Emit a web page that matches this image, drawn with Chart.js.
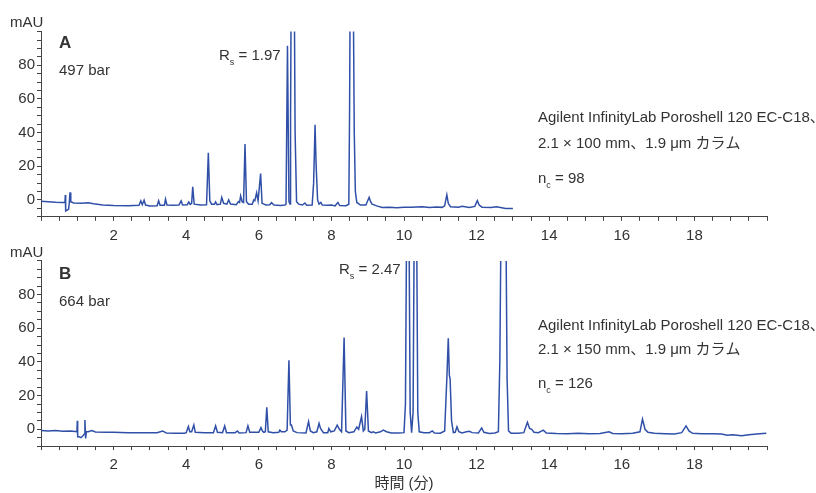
<!DOCTYPE html>
<html><head><meta charset="utf-8">
<script src="https://cdn.jsdelivr.net/npm/chart.js@4.4.1/dist/chart.umd.min.js"></script>
<style>
html,body{margin:0;padding:0;background:#fff;width:816px;height:493px;overflow:hidden}
canvas{position:absolute;left:0}
#cA{top:0}
#cB{top:240px}
</style></head><body>
<canvas id="cA" width="816" height="240"></canvas>
<canvas id="cB" width="816" height="253"></canvas>
<script>
// ---------- data ----------
const timeA = [0.00,0.20,0.40,0.60,0.66,0.67,0.68,0.72,0.76,0.78,0.80,0.82,0.90,1.10,1.30,1.45,1.70,2.00,2.40,2.70,2.75,2.79,2.84,2.88,3.00,3.20,3.24,3.28,3.40,3.43,3.47,3.65,3.80,3.86,3.90,4.03,4.07,4.11,4.15,4.18,4.22,4.40,4.56,4.61,4.65,4.70,4.78,4.81,4.85,4.94,4.98,5.03,5.12,5.17,5.22,5.38,5.44,5.47,5.50,5.54,5.58,5.62,5.66,5.72,5.82,5.86,5.89,5.94,5.98,6.05,6.09,6.20,6.30,6.35,6.42,6.60,6.72,6.75,6.79,6.83,6.86,6.875,6.89,6.935,6.98,7.00,7.04,7.10,7.20,7.27,7.32,7.47,7.51,7.55,7.58,7.62,7.66,7.71,7.75,7.90,8.00,8.10,8.18,8.23,8.40,8.48,8.50,8.515,8.56,8.605,8.63,8.66,8.70,8.80,8.95,9.04,9.08,9.12,9.25,9.40,9.60,9.80,10.00,10.20,10.50,10.70,10.90,11.05,11.12,11.18,11.22,11.28,11.50,11.60,11.80,11.95,12.02,12.07,12.15,12.40,12.55,12.80,13.00];
const signalA = [-0.8,-1.0,-1.3,-1.5,-1.5,3.0,-6.5,-6.0,-5.5,-1.5,4.5,-1.0,-1.8,-2.0,-1.6,-2.2,-3.0,-3.3,-3.4,-3.2,-0.5,-2.8,-0.2,-3.0,-3.6,-3.4,-0.5,-3.2,-3.2,0.5,-3.0,-3.2,-3.0,-0.5,-3.0,-2.8,-1.2,-2.6,-2.0,7.8,-2.5,-3.0,-2.8,28.0,-0.5,-2.5,-2.6,-1.2,-2.8,-2.5,1.5,-2.0,-2.5,0.0,-2.4,-2.8,-1.0,-1.5,2.4,-1.0,-1.5,33.3,-1.0,-2.5,-2.5,0.0,-0.5,4.3,-0.5,15.7,-2.0,-3.0,-2.8,-1.6,-3.0,-3.3,-3.0,-2.5,91.6,-1.0,-2.4,50,115,300,115,40,-1.0,-2.5,-3.0,-1.8,-3.2,-3.0,10,44.7,20,0.0,-2.5,-1.5,-3.0,-3.2,-3.0,-3.5,-1.5,-3.3,-3.4,-2.5,50,115,300,115,40,5,-1.5,-3.0,-3.0,1.6,-1.0,-2.5,-3.5,-4.5,-4.3,-4.6,-4.3,-4.4,-4.0,-4.5,-4.2,-4.4,-3.5,3.0,-2.0,-4.0,-4.3,-3.8,-4.5,-3.8,-0.4,-3.0,-4.3,-4.5,-4.0,-5.0,-5.0];

const timeB = [0.00,0.20,0.40,0.60,0.80,0.95,0.99,1.00,1.01,1.05,1.10,1.15,1.19,1.21,1.23,1.25,1.30,1.40,1.50,1.80,2.00,2.40,2.80,3.20,3.35,3.45,3.70,3.95,4.00,4.06,4.10,4.15,4.21,4.25,4.50,4.75,4.81,4.86,5.00,5.06,5.11,5.35,5.41,5.46,5.65,5.70,5.75,6.00,6.06,6.10,6.14,6.18,6.22,6.26,6.40,6.55,6.58,6.62,6.72,6.78,6.83,6.87,6.90,6.95,7.05,7.30,7.37,7.42,7.50,7.60,7.66,7.70,7.78,7.90,7.93,7.98,8.08,8.16,8.22,8.28,8.35,8.40,8.48,8.62,8.70,8.75,8.83,8.88,8.92,8.97,9.02,9.10,9.15,9.22,9.35,9.43,9.52,9.65,9.85,10.00,10.04,10.07,10.105,10.14,10.17,10.21,10.25,10.28,10.315,10.35,10.38,10.42,10.55,10.70,10.78,10.84,11.00,11.12,11.18,11.22,11.25,11.27,11.31,11.36,11.41,11.46,11.51,11.60,11.72,11.80,11.88,12.05,12.14,12.20,12.35,12.50,12.60,12.64,12.67,12.74,12.81,12.84,12.88,12.95,13.15,13.30,13.40,13.46,13.52,13.58,13.70,13.84,13.92,14.20,14.50,14.80,15.10,15.40,15.65,15.75,16.00,16.30,16.50,16.57,16.64,16.72,16.90,17.20,17.45,17.65,17.77,17.85,17.95,18.20,18.50,18.75,18.90,19.05,19.30,19.50,19.80,19.98];
const signalB = [-0.8,-1.0,-0.8,-1.2,-1.0,-1.3,-1.5,5.0,-4.5,-4.5,-5.0,-4.0,-3.0,5.5,-5.5,-1.5,-1.5,-0.8,-1.6,-1.8,-1.8,-2.0,-2.0,-2.0,-1.0,-2.2,-2.3,-2.3,-2.0,1.6,-1.5,-1.5,2.5,-1.8,-2.0,-2.0,2.0,-1.8,-2.0,2.0,-2.0,-2.0,-1.0,-2.2,-2.0,2.0,-1.8,-1.8,1.0,-1.0,-1.8,-1.5,13.0,-1.5,-2.0,-1.8,-0.5,-1.5,-1.5,-0.5,41.0,2.5,2.5,-1.0,-2.0,-2.2,4.5,-1.0,-2.0,-1.5,3.5,0.5,-2.0,-2.0,0.5,-1.5,-1.0,2.5,0.0,-1.5,54.5,-1.0,-2.0,-1.5,1.3,0.0,7.5,-1.0,0.0,22.7,-1.0,-2.0,-1.5,-2.2,-1.5,-0.5,-1.5,-2.2,-2.2,-2.0,15,115,300,115,10,-2.0,10,115,300,115,10,-1.5,-2.0,-2.0,-1.0,-2.2,-2.3,-1.0,30,54.0,32,30,5,-2.0,-1.8,1.5,-1.5,-2.2,-1.5,-1.2,-2.0,-2.2,0.8,-1.8,-2.5,-2.2,-1.5,40,115,300,115,30,-1.0,-2.3,-2.3,-2.0,4.2,0.5,0.0,-1.8,-2.0,-0.5,-2.2,-2.5,-2.6,-2.4,-2.7,-2.5,-1.5,-2.5,-2.6,-2.4,-1.5,6.0,0.0,-1.8,-2.4,-2.6,-2.8,-2.0,2.0,-1.0,-2.4,-2.6,-2.6,-2.8,-3.5,-3.3,-3.8,-3.2,-2.7,-2.4];

const xTickValues = [0,0.5,1,1.5,2,2.5,3,3.5,4,4.5,5,5.5,6,6.5,7,7.5,8,8.5,9,9.5,10,10.5,11,11.5,12,12.5,13,13.5,14,14.5,15,15.5,16,16.5,17,17.5,18,18.5,19,19.5,20];
const xLabelValues = [2,4,6,8,10,12,14,16,18];
const xTickLabels = ['2','4','6','8','10','12','14','16','18'];
const yTickValues = [-10,-5,0,5,10,15,20,25,30,35,40,45,50,55,60,65,70,75,80,85,90,95,100];
const yLabelValues = [0,20,40,60,80];
const yTickLabels = ['0','20','40','60','80'];

// ---------- styling ----------
const FONT = "'Liberation Sans', Arial, 'Noto Sans CJK JP', sans-serif";
const TEXT = '#333333';
const AXIS = '#444444';
const LINE = '#3050a8';
Chart.defaults.font.family = FONT;
Chart.defaults.color = TEXT;

const notesPlugin = {
  id: 'notes',
  afterDraw(chart, args, opts) {
    const ctx = chart.ctx;
    ctx.save();
    ctx.fillStyle = TEXT;
    ctx.textBaseline = 'alphabetic';
    ctx.textAlign = 'left';
    for (const item of (opts.items || [])) {
      let x = item.x;
      for (const run of item.runs) {
        ctx.font = (run.bold ? 'bold ' : '') + run.size + 'px ' + FONT;
        ctx.fillText(run.t, x, item.y + (run.dy || 0));
        x += ctx.measureText(run.t).width + (run.gap || 0);
      }
    }
    ctx.restore();
  }
};

function toPoints(t, s) { return t.map((x, i) => ({x: x, y: s[i]})); }

function makeChart(id, times, values, geo, items, title) {
  const canvas = document.getElementById(id);
  const H = canvas.height;
  return new Chart(canvas, {
    type: 'line',
    data: { datasets: [{ data: toPoints(times, values), borderColor: LINE, borderWidth: 1.5,
      pointRadius: 0, tension: 0, fill: false }] },
    plugins: [notesPlugin],
    options: {
      responsive: false, animation: false, devicePixelRatio: 1,
      layout: { autoPadding: false, padding: { top: geo.top, right: 49, left: 0, bottom: 0 } },
      plugins: { legend: { display: false }, tooltip: { enabled: false }, notes: { items: items } },
      scales: {
        x: {
          type: 'linear', min: 0, max: 20,
          afterBuildTicks: (sc) => { sc.ticks = xTickValues.map(v => ({ value: v })); },
          afterFit: (sc) => { sc.height = H - geo.bottom; },
          ticks: { autoSkip: false, maxRotation: 0, padding: 6, color: TEXT, font: { size: 15 },
            callback: (v) => { const i = xLabelValues.indexOf(v); return i >= 0 ? xTickLabels[i] : ''; } },
          grid: { drawOnChartArea: false, drawTicks: true, tickLength: 4, color: AXIS, tickColor: AXIS },
          border: { display: true, color: AXIS, width: 1 },
          title: title ? { display: true, text: title, color: TEXT, font: { size: 15 }, padding: { top: 2, bottom: 0 } } : { display: false }
        },
        y: {
          type: 'linear', min: -10, max: 100,
          afterBuildTicks: (sc) => { sc.ticks = yTickValues.map(v => ({ value: v })); },
          afterFit: (sc) => { sc.width = 41; },
          ticks: { autoSkip: false, padding: 2, color: TEXT, font: { size: 15 },
            callback: (v) => { const i = yLabelValues.indexOf(v); return i >= 0 ? yTickLabels[i] : ''; } },
          grid: { drawOnChartArea: false, drawTicks: true, tickLength: 4, color: AXIS, tickColor: AXIS },
          border: { display: true, color: AXIS, width: 1 }
        }
      }
    }
  });
}

makeChart('cA', timeA, signalA, { top: 31.6, bottom: 216.8 }, [
  { x: 10, y: 27, runs: [{ t: 'mAU', size: 15 }] },
  { x: 59, y: 48, runs: [{ t: 'A', size: 17, bold: true }] },
  { x: 59, y: 75, runs: [{ t: '497 bar', size: 15 }] },
  { x: 219, y: 60, runs: [{ t: 'R', size: 15 }, { t: 's', size: 9, dy: 5 }, { t: ' = 1.97', size: 15 }] },
  { x: 538, y: 122, runs: [{ t: 'Agilent InfinityLab Poroshell 120 EC-C18、', size: 15 }] },
  { x: 538, y: 148, runs: [{ t: '2.1 × 100 mm、1.9 μm カラム', size: 15 }] },
  { x: 538, y: 183, runs: [{ t: 'n', size: 15 }, { t: 'c', size: 9, dy: 5 }, { t: ' = 98', size: 15 }] }
], null);

makeChart('cB', timeB, signalB, { top: 20.9, bottom: 206.1 }, [
  { x: 10, y: 16.7, runs: [{ t: 'mAU', size: 15 }] },
  { x: 59, y: 39.3, runs: [{ t: 'B', size: 17, bold: true }] },
  { x: 59, y: 66, runs: [{ t: '664 bar', size: 15 }] },
  { x: 339, y: 34.3, runs: [{ t: 'R', size: 15 }, { t: 's', size: 9, dy: 5 }, { t: ' = 2.47', size: 15 }] },
  { x: 538, y: 90, runs: [{ t: 'Agilent InfinityLab Poroshell 120 EC-C18、', size: 15 }] },
  { x: 538, y: 114, runs: [{ t: '2.1 × 150 mm、1.9 μm カラム', size: 15 }] },
  { x: 538, y: 147.7, runs: [{ t: 'n', size: 15 }, { t: 'c', size: 9, dy: 5 }, { t: ' = 126', size: 15 }] }
], '時間 (分)');
</script>
</body></html>
